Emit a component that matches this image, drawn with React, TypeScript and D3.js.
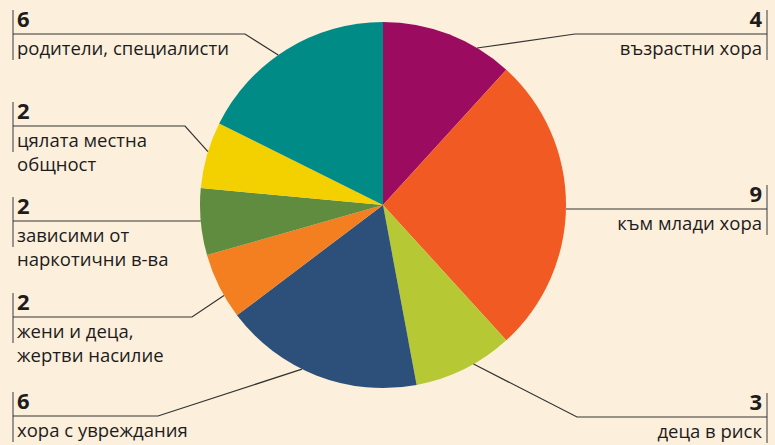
import React from 'react';
import * as d3 from 'd3';

const categories = [
  'възрастни хора',
  'към млади хора',
  'деца в риск',
  'хора с увреждания',
  'жени и деца,|жертви насилие',
  'зависими от|наркотични в-ва',
  'цялата местна|общност',
  'родители, специалисти',
];
const values = [4, 9, 3, 6, 2, 2, 2, 6];
const colors = ['#9b0c61', '#f15a22', '#b6c935', '#2c5079', '#f47f20', '#5f8c3e', '#f3d000', '#008b86'];

// label layout: side, y of the rule, x of the elbow (null = straight), point along the slice
const labelSide = ['right', 'right', 'right', 'left', 'left', 'left', 'left', 'left'];
const labelRuleY = [34, 209, 417, 416, 317, 221, 126, 34];
const labelElbowX = [575, null, 577, 158, 192, null, 185, 245];
const labelAnchorT = [0.73, 0.5, 0.4, 0.58, 0.35, 0.5, 0.55, 0.45];

const W = 775;
const H = 445;
const cx = 383;
const cy = 205;
const R = 183;
const leftX = 13;
const rightX = 767;

const App: React.FC = () => {
  const pie = d3.pie<number>().sort(null).value((d) => d);
  const arcs = pie(values);
  const arc = d3.arc<d3.PieArcDatum<number>>().innerRadius(0).outerRadius(R);

  return (
    <svg
      width={W}
      height={H}
      lang="bg"
      style={{ position: 'fixed', left: 0, top: 0, background: '#fcf0dc', fontFamily: '"Open Sans", sans-serif' }}
    >
      <rect width={W} height={H} fill="#fcf0dc" />
      <g transform={`translate(${cx},${cy})`}>
        {arcs.map((a, i) => (
          <path key={i} d={arc(a) || ''} fill={colors[i]} />
        ))}
      </g>
      {arcs.map((a, i) => {
        const ang = a.startAngle + (a.endAngle - a.startAngle) * labelAnchorT[i];
        const px = cx + R * Math.sin(ang);
        const py = cy - R * Math.cos(ang);
        const ry = labelRuleY[i];
        const right = labelSide[i] === 'right';
        const edge = right ? rightX : leftX;
        const elbow = labelElbowX[i];
        const pts: [number, number][] = elbow === null
          ? [[edge, ry], [px, ry]]
          : [[edge, ry], [elbow, ry], [px, py]];
        const lines = categories[i].split('|');
        const tx = right ? edge - 5 : edge + 4;
        const anchor = right ? 'end' : 'start';
        return (
          <g key={i}>
            <line x1={edge} x2={edge} y1={ry - 24} y2={ry + 26} stroke="#777" strokeWidth={1.5} />
            <path d={d3.line()(pts) || ''} fill="none" stroke="#333" strokeWidth={1.2} />
            <text x={tx} y={ry - 7} textAnchor={anchor} fontSize={22} fontWeight={700} fill="#1e1b1c">
              {values[i]}
            </text>
            {lines.map((t, j) => (
              <text key={j} x={tx} y={ry + 21 + j * 24} textAnchor={anchor} fontSize={18.5} fill="#1e1b1c">
                {t}
              </text>
            ))}
          </g>
        );
      })}
    </svg>
  );
};

export default App;
